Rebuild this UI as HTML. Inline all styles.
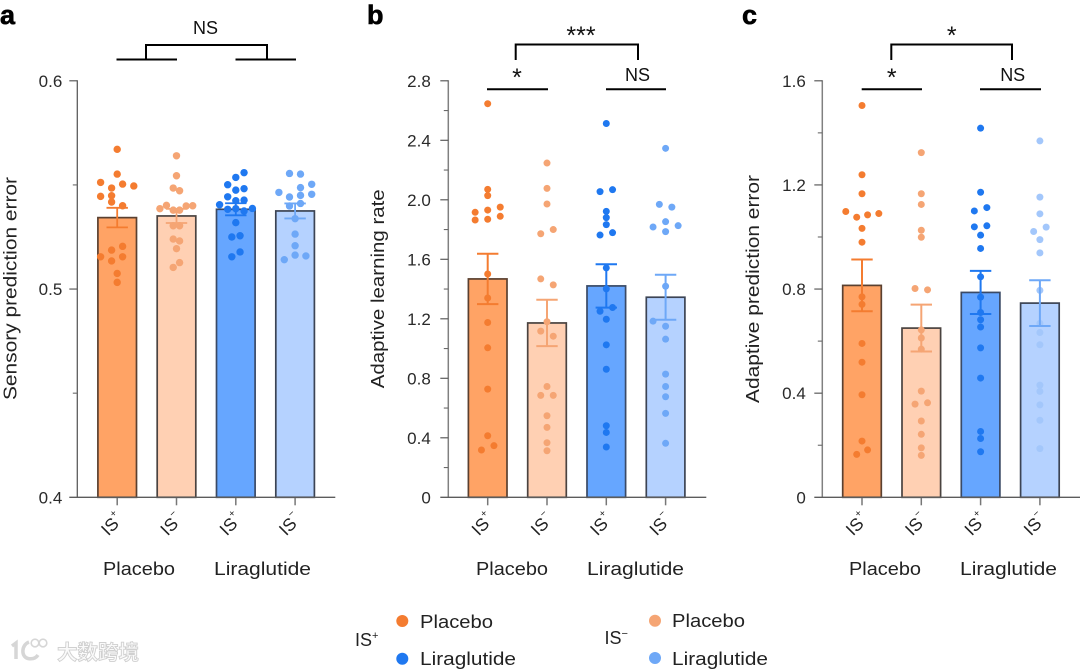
<!DOCTYPE html>
<html lang="en">
<head>
<meta charset="utf-8">
<title>Sensory and adaptive prediction measures</title>
<style>
html,body{margin:0;padding:0;background:#fff;}
body{width:1080px;height:670px;overflow:hidden;}
svg{display:block;font-family:"Liberation Sans","Noto Sans CJK SC",sans-serif;}
</style>
</head>
<body>
<svg id="figure" width="1080" height="670" viewBox="0 0 1080 670" xmlns="http://www.w3.org/2000/svg">
  <rect width="1080" height="670" fill="#fff"/>

  <g id="panel-a"></g>
  <g id="panel-b"></g>
  <g id="panel-c"></g>

  <text x="0" y="24" font-size="27" font-weight="bold" fill="#000" stroke="#000" stroke-width="0.6">a</text>
  <text x="367" y="24" font-size="27" font-weight="bold" fill="#000" stroke="#000" stroke-width="0.6">b</text>
  <text x="742" y="24" font-size="27" font-weight="bold" fill="#000" stroke="#000" stroke-width="0.6">c</text>

  <g fill="none" stroke="#000" stroke-width="2">
    <path d="M146 59.5V45H267V59.5"/>
    <path d="M116.5 59.5H177"/>
    <path d="M235.500 59.500H296"/>
  </g>
  <text x="205.500" y="34" font-size="18" text-anchor="middle" fill="#111">NS</text>

  <g fill="none" stroke="#000" stroke-width="2">
    <path d="M515.700 60V44.500H638V60"/>
    <path d="M487 89.300H548"/>
    <path d="M606 89.300H666"/>
  </g>
  <text x="581" y="44" font-size="25" text-anchor="middle" fill="#111">***</text>
  <text x="517" y="86" font-size="25" text-anchor="middle" fill="#111">*</text>
  <text x="637.500" y="81" font-size="18" text-anchor="middle" fill="#111">NS</text>

  <g fill="none" stroke="#000" stroke-width="2">
    <path d="M891.300 60V44.500H1012V60"/>
    <path d="M861.700 89.300H922"/>
    <path d="M980 89.300H1041"/>
  </g>
  <text x="951.700" y="44" font-size="25" text-anchor="middle" fill="#111">*</text>
  <text x="891.700" y="86" font-size="25" text-anchor="middle" fill="#111">*</text>
  <text x="1012.700" y="81" font-size="18" text-anchor="middle" fill="#111">NS</text>

  <g id="legend" font-size="18" fill="#222">
    <text x="355" y="646" font-size="18">IS<tspan font-size="11" dy="-7">+</tspan></text>
    <circle cx="402.300" cy="621" r="6" fill="#f47c30"/>
    <text x="420" y="628" textLength="73" lengthAdjust="spacingAndGlyphs">Placebo</text>
    <circle cx="402.300" cy="658.700" r="6" fill="#1f78f0"/>
    <text x="420" y="665" textLength="96" lengthAdjust="spacingAndGlyphs">Liraglutide</text>
    <text x="604.500" y="644" font-size="18">IS<tspan font-size="11" dy="-7">−</tspan></text>
    <circle cx="655" cy="620.700" r="6" fill="#f5a574"/>
    <text x="672" y="627" textLength="73" lengthAdjust="spacingAndGlyphs">Placebo</text>
    <circle cx="655" cy="658" r="6" fill="#6ea8f7"/>
    <text x="672" y="665" textLength="96" lengthAdjust="spacingAndGlyphs">Liraglutide</text>
  </g>

  <g id="watermark">
    <g fill="none" stroke="#d6d6d6" stroke-width="3.5">
      <path d="M12 646L16 643V659"/>
      <path d="M29 642C21 645 21 657 28 658.500C33 659.500 36 658 38 655"/>
      <circle cx="35" cy="643" r="3.800" stroke-width="1.600"/>
      <circle cx="43" cy="643" r="3.800" stroke-width="1.600"/>
    </g>
    <text x="57" y="659.500" font-size="20.500" font-weight="bold" fill="#fafafa" stroke="#d0d0d0" stroke-width="0.9" font-family="'Liberation Sans','Noto Sans CJK SC',sans-serif">大数跨境</text>
  </g>
</svg>

<script>
/* Panel a: sensory prediction error */
const panelATicks = ["0.4", "0.5", "0.6"];
const panelAMeans = [0.5343, 0.5351, 0.5383, 0.5375];
const panelASems = [0.0047, 0.0034, 0.0029, 0.0036];
const panelAValues = [
  [0.5671, 0.5552, 0.5512, 0.5485, 0.5504, 0.5495, 0.5445, 0.5448, 0.5418, 0.5400, 0.5187, 0.5205, 0.5155, 0.5155, 0.5135, 0.5075, 0.5032],
  [0.5640, 0.5544, 0.5485, 0.5472, 0.5386, 0.5402, 0.5379, 0.5379, 0.5399, 0.5400, 0.5304, 0.5304, 0.5240, 0.5231, 0.5194, 0.5127, 0.5104],
  [0.5559, 0.5536, 0.5501, 0.5475, 0.5482, 0.5443, 0.5424, 0.5427, 0.5405, 0.5383, 0.5386, 0.5375, 0.5387, 0.5319, 0.5250, 0.5256, 0.5155, 0.5178],
  [0.5555, 0.5552, 0.5503, 0.5487, 0.5464, 0.5442, 0.5450, 0.5455, 0.5411, 0.5399, 0.5338, 0.5264, 0.5208, 0.5141, 0.5163, 0.5159]
];
const panelAColumns = [
  [0, 0, -0.43, -0.145, 0.14, 0.43, -0.43, -0.145, -0.145, 0.14, -0.145, 0.14, -0.43, 0.14, -0.145, 0, 0],
  [0, 0, -0.085, 0.08, -0.43, -0.26, -0.085, 0.08, 0.25, 0.42, -0.085, 0.08, -0.085, 0.08, 0, 0.08, -0.085],
  [0.214, 0, -0.21, 0, 0.214, -0.21, 0, 0.214, -0.42, -0.21, 0, 0.214, 0.43, 0, -0.103, 0.11, -0.103, 0.11],
  [-0.145, 0.14, 0.43, 0.14, -0.42, -0.145, 0.14, 0.43, 0.14, -0.145, 0, 0, 0, -0.28, 0, 0.28]
];

/* Panel b: adaptive learning rate */
const panelBTicks = ["0", "0.4", "0.8", "1.2", "1.6", "2.0", "2.4", "2.8"];
const panelBMeans = [1.468, 1.172, 1.421, 1.345];
const panelBSems = [0.169, 0.156, 0.146, 0.151];
const panelBValues = [
  [2.646, 2.070, 2.028, 1.916, 1.931, 1.951, 1.864, 1.869, 1.889, 1.501, 1.340, 1.175, 1.005, 0.727, 0.414, 0.347, 0.318],
  [2.247, 2.077, 1.972, 1.772, 1.800, 1.468, 1.428, 1.180, 1.117, 1.083, 0.745, 0.685, 0.685, 0.548, 0.470, 0.367, 0.313],
  [2.513, 2.055, 2.068, 1.922, 1.880, 1.833, 1.763, 1.779, 1.542, 1.401, 1.251, 1.276, 1.197, 1.025, 0.861, 0.481, 0.436, 0.338],
  [2.346, 1.969, 1.951, 1.853, 1.817, 1.826, 1.786, 1.419, 1.184, 1.150, 1.063, 0.828, 0.745, 0.676, 0.564, 0.363]
];
const panelBColumns = [
  [0, 0, 0, -0.325, 0, 0.325, -0.325, 0, 0.325, 0, 0, 0, 0, 0, 0, 0.162, -0.162],
  [0, 0, 0, -0.162, 0.162, -0.162, 0.162, 0, -0.162, 0.162, 0, -0.162, 0.162, 0, 0, 0, 0],
  [0, -0.162, 0.162, 0, 0, 0, -0.162, 0.162, 0, 0, -0.162, 0.162, 0, 0, 0, 0, 0, 0],
  [0, -0.162, 0.162, 0, -0.325, 0.325, 0, 0, -0.325, 0, 0, 0, 0, 0, 0, 0]
];

/* Panel c: adaptive prediction error */
const panelCTicks = ["0", "0.4", "0.8", "1.2", "1.6"];
const panelCMeans = [0.814, 0.650, 0.787, 0.746];
const panelCSems = [0.0995, 0.090, 0.083, 0.088];
const panelCValues = [
  [1.505, 1.239, 1.166, 1.098, 1.076, 1.085, 1.090, 1.033, 0.980, 0.770, 0.741, 0.591, 0.519, 0.394, 0.216, 0.182, 0.165],
  [1.324, 1.166, 1.125, 1.026, 0.999, 0.802, 0.797, 0.643, 0.612, 0.569, 0.408, 0.358, 0.363, 0.293, 0.242, 0.190, 0.161],
  [1.418, 1.172, 1.100, 1.113, 1.039, 1.043, 1.007, 0.956, 0.847, 0.769, 0.710, 0.682, 0.654, 0.574, 0.458, 0.253, 0.226, 0.175],
  [1.369, 1.153, 1.089, 1.021, 1.038, 0.990, 0.939, 0.795, 0.668, 0.633, 0.586, 0.431, 0.407, 0.355, 0.296, 0.187]
];
const panelCColumns = [
  [0, 0, 0, -0.42, -0.137, 0.145, 0.436, 0, 0, 0, 0, 0, 0, 0, 0, 0.145, -0.137],
  [0, 0, 0, 0, 0, -0.162, 0.162, 0, 0, 0, 0, -0.162, 0.162, 0, 0, 0, 0],
  [0, 0, -0.162, 0.162, -0.162, 0.162, 0, 0, 0, 0, 0, 0, 0, 0, 0, 0, 0, 0],
  [0, 0, 0, -0.162, 0.162, 0, 0, 0, 0, 0, 0, 0, 0, 0, 0, 0]
];

/* Shared category labels */
const barCategories = ["IS+ placebo", "IS- placebo", "IS+ liraglutide", "IS- liraglutide"];
const tickSigns = ["+", "−", "+", "−"];
const treatmentLabels = ["Placebo", "Liraglutide"];

const SVG_NS = "http://www.w3.org/2000/svg";
const fillColors = ["#ffa365", "#ffd0b3", "#66a6ff", "#b5d2ff"];
const markColors = ["#f47c30", "#f5a574", "#1f78f0", "#6ea8f7"];
const edgeColors = ["#5a4030", "#4a4340", "#3a4a66", "#3c4454"];
const Y_TOP = 80.8;
const Y_BOTTOM = 497.3;
const BAR_WIDTH = 38.6;
const BAR_STEP = 59.3;

function make(parent, tag, attrs) {
  const el = document.createElementNS(SVG_NS, tag);
  for (const key in attrs) el.setAttribute(key, attrs[key]);
  parent.appendChild(el);
  return el;
}

function drawPanel(cfg) {
  const root = document.getElementById(cfg.id);
  const low = parseFloat(cfg.ticks[0]);
  const high = parseFloat(cfg.ticks[cfg.ticks.length - 1]);
  const yScale = v => Y_BOTTOM - (v - low) / (high - low) * (Y_BOTTOM - Y_TOP);
  const xScale = i => cfg.firstCenter + i * BAR_STEP;

  /* bars, dots and error bars */
  cfg.means.forEach((mean, i) => {
    const cx = xScale(i);
    const label = cfg.key + "-" + barCategories[i].toLowerCase().replace(/[+]/, "-plus").replace(/-\s|\s/g, "-");

    const bar = make(root, "rect", {
      x: cx - BAR_WIDTH / 2, y: yScale(mean), width: BAR_WIDTH, height: Y_BOTTOM - yScale(mean),
      fill: fillColors[i], stroke: edgeColors[i], "stroke-width": 1.7
    });
    
    

    const dotColor = cfg.dotColors ? cfg.dotColors[i] : markColors[i];
    cfg.values[i].forEach((value, j) => {
      const dot = make(root, "circle", {
        cx: cx + cfg.columns[i][j] * BAR_WIDTH, cy: yScale(value), r: cfg.dotRadius, fill: dotColor
      });
      
      
    });

    const top = yScale(mean + cfg.sems[i]);
    const bottom = yScale(mean - cfg.sems[i]);
    const err = make(root, "path", {
      d: "M" + (cx - 10.7) + " " + top + "H" + (cx + 10.7) + "M" + cx + " " + top + "V" + bottom + "M" + (cx - 10.7) + " " + bottom + "H" + (cx + 10.7),
      fill: "none", stroke: markColors[i], "stroke-width": cfg.errWidth
    });
    
    

    const tick = make(root, "line", {
      x1: cx, x2: cx, y1: Y_BOTTOM, y2: Y_BOTTOM + 8, stroke: "#777", "stroke-width": 1.5
    });
    
    

    const tickText = make(root, "text", {
      transform: "translate(" + (cx - 9) + " 536.5) rotate(-45)", "font-size": 17.5, fill: "#222"
    });
    
    
    tickText.textContent = "IS";
    const sign = make(tickText, "tspan", { "font-size": 10, dy: -9.5, dx: 0.5 });
    sign.textContent = tickSigns[i];
  });

  /* axes */
  const yAxis = make(root, "line", {
    x1: cfg.axisX, x2: cfg.axisX, y1: Y_TOP - 0.5, y2: Y_BOTTOM + 0.5, stroke: cfg.axisColor, "stroke-width": cfg.axisWidth
  });
  
  

  const xAxis = make(root, "line", {
    x1: cfg.axisX - 8, x2: cfg.axisX + 258, y1: Y_BOTTOM, y2: Y_BOTTOM, stroke: "#5c5c5c", "stroke-width": 1.3
  });
  
  

  cfg.ticks.forEach((label, i) => {
    const y = yScale(parseFloat(label));
    if (i > 0) {
      const tick = make(root, "line", {
        x1: cfg.axisX - 8, x2: cfg.axisX, y1: y, y2: y, stroke: "#5c5c5c", "stroke-width": 1.2
      });
      
      
    }
    if (i < cfg.ticks.length - 1) {
      const next = parseFloat(cfg.ticks[i + 1]);
      const minorY = yScale((parseFloat(label) + next) / 2);
      const minor = make(root, "line", {
        x1: cfg.axisX - 4.5, x2: cfg.axisX, y1: minorY, y2: minorY, stroke: "#6a6a6a", "stroke-width": 1.1
      });
      
      
    }
    const text = make(root, "text", {
      x: cfg.axisX - cfg.labelGap, y: y + 6, "text-anchor": "end", "font-size": 17, fill: "#2a2a2a"
    });
    
    
    text.textContent = label;
  });

  /* axis title */
  const title = make(root, "text", {
    transform: "translate(" + cfg.titleX + " " + cfg.titleY + ") rotate(-90)",
    "text-anchor": "middle", "font-size": 18, fill: "#222",
    textLength: cfg.titleLength, lengthAdjust: "spacingAndGlyphs"
  });
  
  
  title.textContent = cfg.title;

  /* treatment group labels */
  treatmentLabels.forEach((label, i) => {
    const group = make(root, "text", {
      x: cfg.axisX + cfg.groupShift + (i === 0 ? 25.7 : 136.7), y: 575, "font-size": 18, fill: "#222",
      textLength: i === 0 ? 72 : 97, lengthAdjust: "spacingAndGlyphs"
    });
    
    
    group.textContent = label;
  });
}

drawPanel({
  id: "panel-a", key: "a", ticks: panelATicks, means: panelAMeans, sems: panelASems,
  values: panelAValues, columns: panelAColumns, axisX: 77.3, firstCenter: 117.2, labelGap: 15,
  dotRadius: 3.7, errWidth: 1.8, title: "Sensory prediction error", titleX: 16.5, titleY: 288.5, titleLength: 223,
  axisColor: "#5c5c5c", axisWidth: 1.3, groupShift: 0
});
drawPanel({
  id: "panel-b", key: "b", ticks: panelBTicks, means: panelBMeans, sems: panelBSems,
  values: panelBValues, columns: panelBColumns, axisX: 448.3, firstCenter: 487.7, labelGap: 17.5,
  dotRadius: 3.5, errWidth: 2, title: "Adaptive learning rate", titleX: 384, titleY: 288.8, titleLength: 199,
  axisColor: "#808080", axisWidth: 1.5, groupShift: 2
});
drawPanel({
  id: "panel-c", key: "c", ticks: panelCTicks, means: panelCMeans, sems: panelCSems,
  values: panelCValues, columns: panelCColumns, axisX: 822.3, firstCenter: 862, labelGap: 16.5,
  dotRadius: 3.5, errWidth: 2, title: "Adaptive prediction error", titleX: 759, titleY: 289, titleLength: 228,
  axisColor: "#808080", axisWidth: 1.5, groupShift: 1,
  dotColors: ["#f47c30", "#f5a574", "#1f78f0", "#a3c7fb"]
});
</script>
</body>
</html>
